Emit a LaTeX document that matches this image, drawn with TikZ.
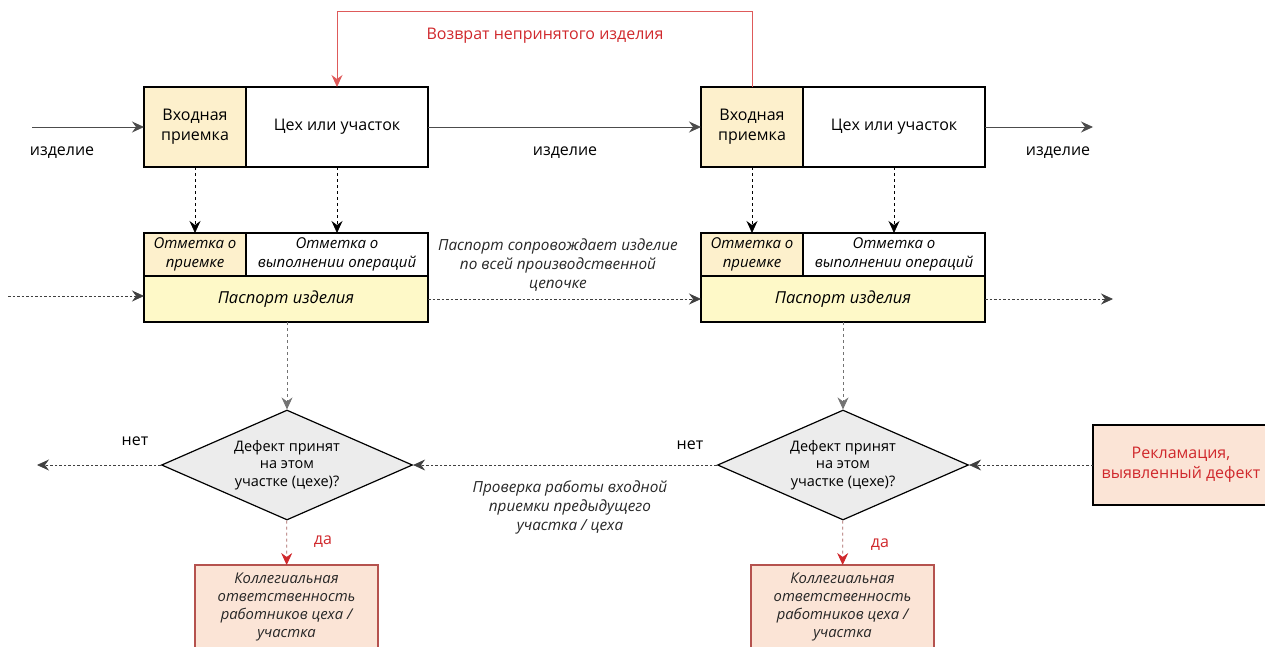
\documentclass[tikz,border=0pt]{standalone}
\usepackage{fontspec}
\setmainfont{Open Sans}
\usetikzlibrary{shapes.geometric,% diamond for the decisions
arrows.meta,%                    Stealth tips
positioning}
\definecolor{inyellow}{HTML}{FDF0CC}
\definecolor{passyellow}{HTML}{FEF9C8}
\definecolor{decgray}{HTML}{ECECEC}
\definecolor{claimpink}{HTML}{FBE4D6}
\definecolor{claimred}{HTML}{B5524E}
\definecolor{textred}{HTML}{D0282C}
\definecolor{linered}{HTML}{DE5A5A}
\tikzset{every node/.style={font=\fontsize{16}{20}\selectfont}}

\begin{document}
\begin{tikzpicture}[x=1pt, y=-1pt,
    cell/.style={draw, line width=1.2pt, inner sep=0pt, outer sep=0pt, align=center},
    tip/.style={-{Stealth[length=12pt, width=11pt, inset=4pt]}},
    flow/.style={tip, draw=black!70, line width=0.9pt},
    markline/.style={tip, dashed, line width=0.8pt},
    dots/.style={tip, draw=black!75, line width=0.8pt, dash pattern=on 2.5pt off 2pt},
    note/.style={font=\fontsize{15.3}{19}\selectfont\itshape, align=center, text=black!85},
    small/.style={font=\fontsize{15}{19}\selectfont\itshape},
    decision/.style={diamond, draw, line width=1.2pt, fill=decgray, aspect=2.28, inner sep=0pt,
        minimum width=251, minimum height=110, align=center, font=\fontsize{14.5}{17.5}\selectfont},
    duty/.style={cell, draw=claimred, fill=claimpink, minimum width=183, minimum height=84,
        font=\fontsize{14.8}{17.7}\selectfont\itshape, text=black!85}]
  \clip (0,0) rectangle (1265,646);
  \useasboundingbox (0,0) rectangle (1265,646);

  % workshops
  \foreach \n/\x in {1/195, 2/752} {
    \node[cell, fill=inyellow, minimum width=102, minimum height=80] (in\n) at (\x,127) {Входная\\приемка};
    \node[cell, fill=white, minimum width=182, minimum height=80, right=0pt of in\n] (shop\n) {Цех или участок};
    \node[cell, small, fill=inyellow, minimum width=102, minimum height=43] (ok\n) at (\x,254.5) {Отметка о\\приемке};
    \node[cell, small, fill=white, minimum width=182, minimum height=43, right=0pt of ok\n] (ops\n) {Отметка о\\выполнении операций};
    \node[cell, fill=passyellow, minimum width=284, minimum height=46, font=\fontsize{16.5}{20}\selectfont\itshape,
          anchor=north west] (pass\n) at (ok\n.south west) {Паспорт изделия};
  }
  \node[decision] (dec1) at (287,465) {Дефект принят\\на этом\\участке (цехе)?};
  \node[decision] (dec2) at (843,465) {Дефект принят\\на этом\\участке (цехе)?};
  \node[duty] (resp1) at (286.5,607) {Коллегиальная\\ответственность\\работников цеха /\\участка};
  \node[duty] (resp2) at (842.5,607) {Коллегиальная\\ответственность\\работников цеха /\\участка};
  \node[cell, fill=claimpink, text=textred, minimum width=176, minimum height=80]
    (claim) at (1181,465) {Рекламация,\\выявленный дефект};

  % loose ends
  \coordinate (start) at (32,127);
  \coordinate (finish) at (1093,127);
  \coordinate (pstart) at (8,296);
  \coordinate (pend) at (1113,299);
  \coordinate (reject) at (37,465);

  % product flow
  \draw[flow] (start) -- (in1);
  \draw[flow] (shop1) -- (in2);
  \draw[flow] (shop2.east) -- (finish);
  \node at (62,153) {изделие};
  \node at (565,153) {изделие};
  \node at (1058,153) {изделие};
  \draw[tip, draw=linered, line width=0.9pt] (in2.north) -- ++(0,-76) -| (shop1.north);
  \node[text=textred] at (545,36) {Возврат непринятого изделия};

  % marks in the passport
  \foreach \n in {1,2} {
    \draw[markline] (in\n) -- (ok\n);
    \draw[markline] (shop\n) -- (ops\n);
    \draw[markline, draw=black!55] (pass\n.south -| dec\n) -- (dec\n.north);
    \draw[markline, draw=claimred!70!gray, -{Stealth[length=12pt, width=11pt, inset=4pt, color=textred]}] (dec\n) -- (resp\n);
  }
  \draw[dots] (pstart) -- (pass1.west |- pstart);
  \draw[dots] (pass1.east) -- (pass2.west);
  \draw[dots] (pass2.east) -- (pend);
  \node[note] at (558,265) {Паспорт сопровождает изделие\\по всей производственной\\цепочке};

  % defect check
  \draw[dots] (claim) -- (dec2);
  \draw[dots] (dec2) -- (dec1);
  \draw[dots] (dec1) -- (reject);
  \node at (135,441) {нет};
  \node at (690,445) {нет};
  \node[text=textred] at (323,542) {да};
  \node[text=textred] at (880,545) {да};
  \node[note] at (570,507) {Проверка работы входной\\приемки предыдущего\\участка / цеха};
\end{tikzpicture}
\end{document}
